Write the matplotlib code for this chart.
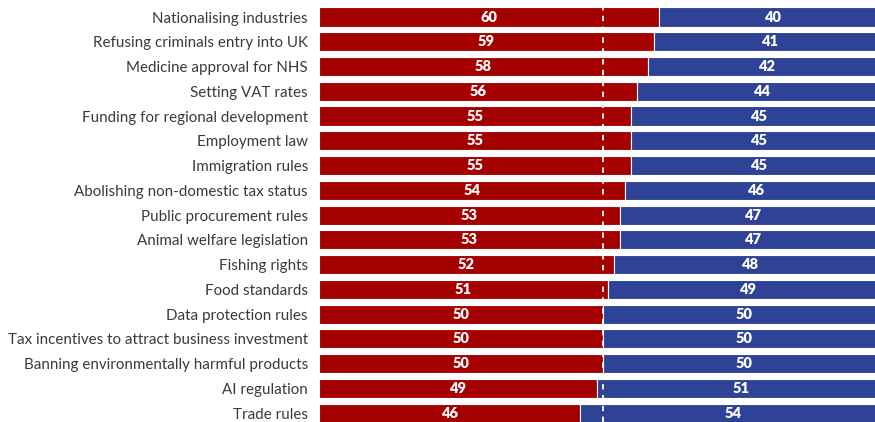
import matplotlib.pyplot as plt

categories = ['Nationalising industries', 'Refusing criminals entry into UK', 'Medicine approval for NHS',
              'Setting VAT rates', 'Funding for regional development', 'Employment law', 'Immigration rules',
              'Abolishing non-domestic tax status', 'Public procurement rules', 'Animal welfare legislation',
              'Fishing rights', 'Food standards', 'Data protection rules',
              'Tax incentives to attract business investment', 'Banning environmentally harmful products',
              'AI regulation', 'Trade rules']
red_vals = [60, 59, 58, 56, 55, 55, 55, 54, 53, 53, 52, 51, 50, 50, 50, 49, 46]
blue_vals = [40, 41, 42, 44, 45, 45, 45, 46, 47, 47, 48, 49, 50, 50, 50, 51, 54]

RED = '#a50000'
BLUE = '#2f4396'

fig = plt.figure(figsize=(8.75, 4.22), dpi=100)
ax = fig.add_axes([319 / 875, 0, 567 / 875, 1])

y = list(range(len(categories)))
ax.barh(y, red_vals, height=0.77, color=RED, edgecolor='white', linewidth=0.8)
ax.barh(y, blue_vals, left=red_vals, height=0.77, color=BLUE, edgecolor='white', linewidth=0.8)

for i in y:
    ax.text(red_vals[i] / 2, i, str(red_vals[i]), ha='center', va='center',
            color='white', fontsize=10.5, fontweight='heavy', family='Lato')
    ax.text(red_vals[i] + blue_vals[i] / 2, i, str(blue_vals[i]), ha='center', va='center',
            color='white', fontsize=10.5, fontweight='heavy', family='Lato')

ax.axvline(50, color='white', linestyle=(0, (3, 3)), linewidth=1.3)

ax.set_xlim(0, 100)
ax.set_ylim(16.36, -0.687)
ax.set_yticks(y)
ax.set_yticklabels(categories, fontsize=10.9, color='#3a3a3a', family='Lato')
ax.tick_params(axis='y', length=0, pad=8)
ax.set_xticks([])
for s in ax.spines.values():
    s.set_visible(False)

fig.savefig('out.png', dpi=100)
